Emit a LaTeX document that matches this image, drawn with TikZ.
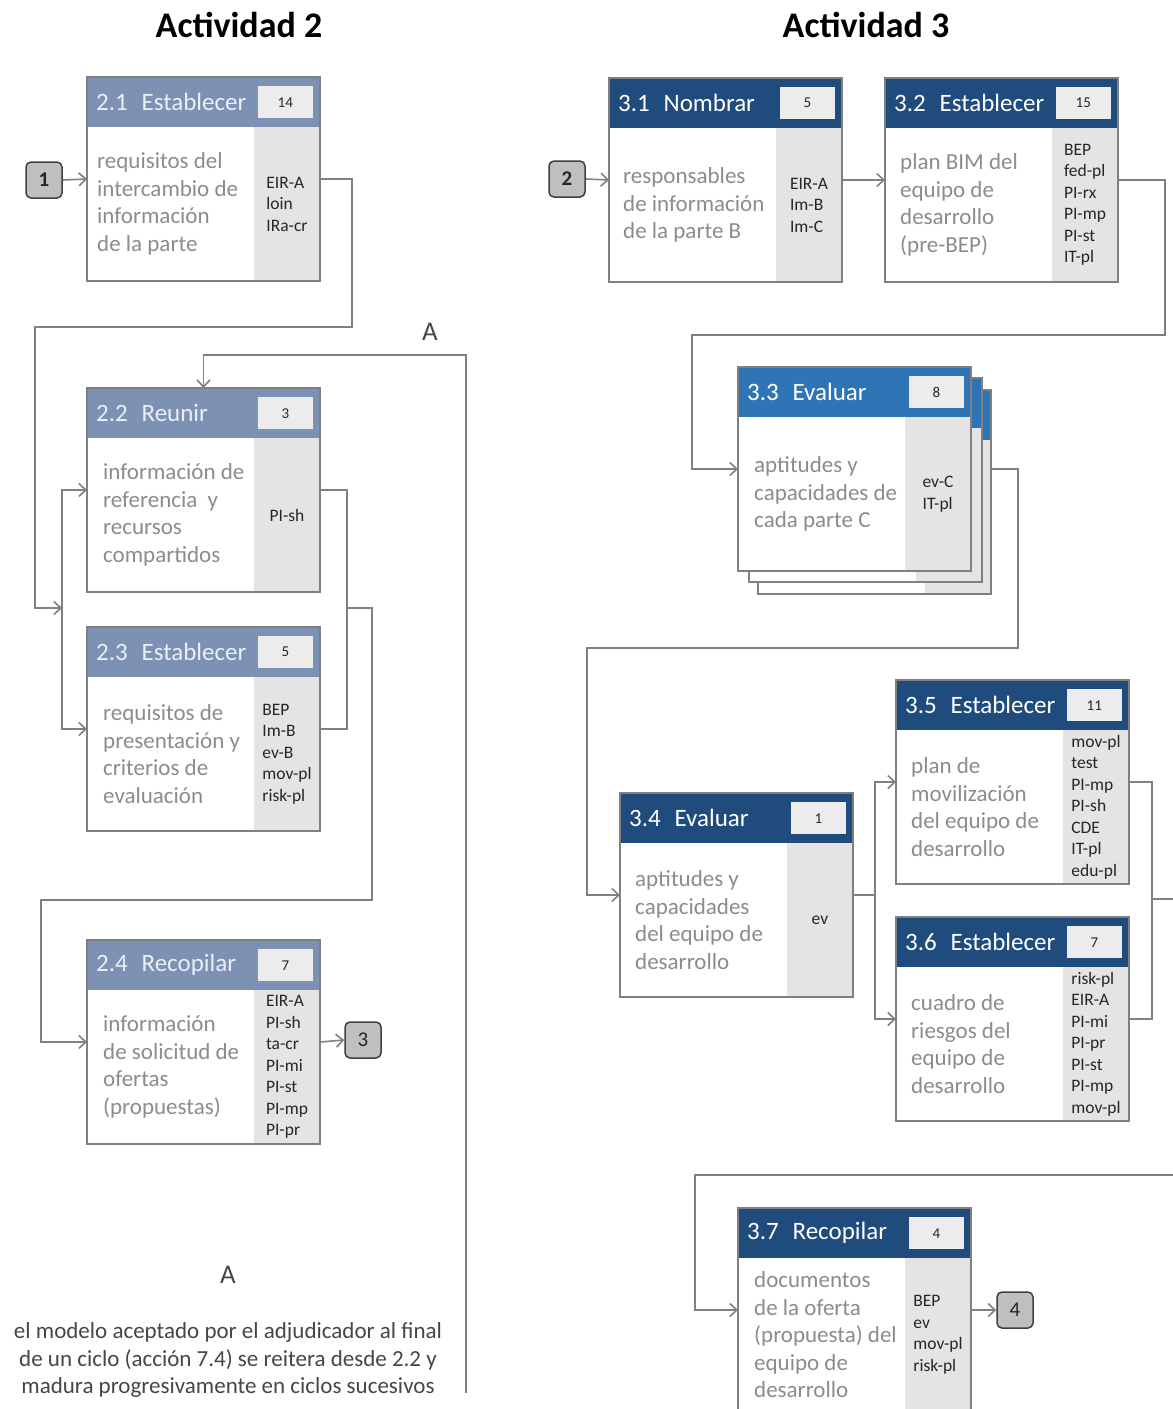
\documentclass[tikz,border=0pt]{standalone}
\usepackage{fontspec}
\setmainfont{Carlito}
\usetikzlibrary{arrows.meta}
\definecolor{lncol}{RGB}{128,128,128}
\definecolor{hdrA}{RGB}{124,145,180}
\definecolor{hdrB}{RGB}{31,75,125}
\definecolor{hdrC}{RGB}{46,117,182}
\definecolor{colbg}{RGB}{230,227,228}
\definecolor{numbg}{RGB}{236,236,236}
\definecolor{bodytx}{RGB}{140,140,140}
\definecolor{codetx}{RGB}{38,38,38}
\definecolor{hdrtxA}{RGB}{234,239,246}
\definecolor{tagbg}{RGB}{191,191,191}
\definecolor{tagln}{RGB}{64,64,64}
\definecolor{notetx}{RGB}{70,70,70}
\tikzset{
 conn/.style={draw=lncol, line width=1.6pt},
 arr/.style={conn, -{Straight Barb[length=7pt,width=13pt]}},
 pbody/.style={fill=white, minimum width=233pt, minimum height=204pt, inner sep=0pt, outer sep=0pt},
 boxline/.style={draw=lncol, line width=1.6pt},
 numbox/.style={fill=numbg, minimum width=55pt, minimum height=32pt, inner sep=0pt, font=\fontsize{15}{18}\selectfont, text=codetx},
 hdrtext/.style={inner sep=0pt, font=\fontsize{25}{28}\selectfont},
 bodytext/.style={inner sep=0pt, align=left, text=bodytx, font=\fontsize{23}{27.5}\selectfont},
 codetext/.style={inner sep=0pt, align=left, text=codetx, font=\fontsize{17.5}{21.5}\selectfont},
 tag/.style={draw=tagln, fill=tagbg, rounded corners=5pt, line width=1.5pt, minimum width=36pt, minimum height=36pt, inner sep=0pt, font=\fontsize{21}{24}\selectfont, text=black!85},
 title/.style={font=\bfseries\fontsize{36}{40}\selectfont, inner sep=0pt},
 letter/.style={font=\fontsize{27}{30}\selectfont, text=notetx, inner sep=0pt},
}
\newcommand{\ProcBox}[7]{%
 \node[pbody, anchor=north west] (#1) at (#2,#3) {};
 \fill[colbg] ([xshift=-66pt]#1.north east) rectangle (#1.south east);
 \fill[#4] (#1.north west) rectangle ([yshift=-50pt]#1.north east);
 \node[numbox, anchor=north east] (#1n) at ([xshift=-7pt,yshift=-9pt]#1.north east) {#7};
 \node[hdrtext, text=#5, anchor=west] (#1t) at ([xshift=9pt,yshift=-25pt]#1.north west) {#6};
 \draw[boxline] (#1.north west) rectangle (#1.south east);
}
\newcommand{\StackBox}[3]{%
 \node[pbody, anchor=north west] (#1) at (#2,#3) {};
 \fill[colbg] ([xshift=-66pt]#1.north east) rectangle (#1.south east);
 \fill[hdrC] (#1.north west) rectangle ([yshift=-50pt]#1.north east);
 \draw[boxline] (#1.north west) rectangle (#1.south east);
}
\newcommand{\BodyTxt}[4]{%
 \node[bodytext, anchor=west] (#1b) at ([xshift=#2pt,yshift=-127pt]#1.north west) {#3};
 \node[codetext] (#1c) at ([xshift=-33pt,yshift=-127pt]#1.north east) {#4};
}
\newcommand{\Sp}{\hspace{0.55em}}
\begin{document}
\begin{tikzpicture}[x=1pt,y=-1pt]
\useasboundingbox (0,0) rectangle (1173,1409);
\clip (0,0) rectangle (1173,1409);
\fill[white] (0,0) rectangle (1173,1409);

% titles
\node[title] (t2) at (239,25) {Actividad 2};
\node[title] (t3) at (866,25) {Actividad 3};

% ---------- Actividad 2 ----------
\ProcBox{b21}{87}{77}{hdrA}{hdrtxA}{2.1\Sp Establecer}{14}
\BodyTxt{b21}{10}{requisitos del\\intercambio de\\información\\de la parte}{EIR-A\\loin\\IRa-cr}
\ProcBox{b22}{87}{388}{hdrA}{hdrtxA}{2.2\Sp Reunir}{3}
\BodyTxt{b22}{16}{información de\\referencia\ \ y\\recursos\\compartidos}{PI-sh}
\ProcBox{b23}{87}{627}{hdrA}{hdrtxA}{2.3\Sp Establecer}{5}
\BodyTxt{b23}{16}{requisitos de\\presentación y\\criterios de\\evaluación}{BEP\\Im-B\\ev-B\\mov-pl\\risk-pl}
\ProcBox{b24}{87}{940}{hdrA}{hdrtxA}{2.4\Sp Recopilar}{7}
\BodyTxt{b24}{16}{información\\de solicitud de\\ofertas\\(propuestas)}{EIR-A\\PI-sh\\ta-cr\\PI-mi\\PI-st\\PI-mp\\PI-pr}

\node[tag, font=\bfseries\fontsize{21}{24}\selectfont] (n1) at (44,180) {1};
\node[tag] (n3) at (363,1040) {3};

\node[letter] (aTop) at (430,332) {A};
\node[letter] (aBot) at (228,1275) {A};
\node[align=center, text=notetx, font=\fontsize{23}{27.5}\selectfont, inner sep=0pt] (note) at (228,1360)
 {el modelo aceptado por el adjudicador al final\\de un ciclo (acción 7.4) se reitera desde 2.2 y\\madura progresivamente en ciclos sucesivos};

% connectors activity 2
\draw[arr] (n1.east) -- (b21.west);
\coordinate (j23) at (62,608);
\draw[arr] (b21.east) -| (352,327) -| (35,560) |- (j23);
\draw[arr] (j23) |- (b22.west);
\draw[arr] (j23) |- (b23.west);
\coordinate (o23) at (347,608);
\draw[conn] (b22.east) -| (o23) |- (b23.east);
\draw[arr] (o23) -- (372,608) |- (41,900) |- (b24.west);
\draw[arr] (b24.east) -- (n3.west);
\coordinate (aEnd) at (466,1393);
\draw[arr] (aEnd) |- (203.5,355) -- (b22.north);

% ---------- Actividad 3 ----------
\ProcBox{b31}{609}{78}{hdrB}{white}{3.1\Sp Nombrar}{5}
\BodyTxt{b31}{14}{responsables\\de información\\de la parte B}{EIR-A\\Im-B\\Im-C}
\ProcBox{b32}{885}{78}{hdrB}{white}{3.2\Sp Establecer}{15}
\BodyTxt{b32}{15}{plan BIM del\\equipo de\\desarrollo\\(pre-BEP)}{BEP\\fed-pl\\PI-rx\\PI-mp\\PI-st\\IT-pl}

\StackBox{b33s2}{758}{390}
\StackBox{b33s1}{749}{378}
\ProcBox{b33}{738}{367}{hdrC}{white}{3.3\Sp Evaluar}{8}
\BodyTxt{b33}{16}{aptitudes y\\capacidades de\\cada parte C}{ev-C\\IT-pl}

\ProcBox{b34}{620}{793}{hdrB}{white}{3.4\Sp Evaluar}{1}
\BodyTxt{b34}{15}{aptitudes y\\capacidades\\del equipo de\\desarrollo}{ev}
\ProcBox{b35}{896}{680}{hdrB}{white}{3.5\Sp Establecer}{11}
\BodyTxt{b35}{15}{plan de\\movilización\\del equipo de\\desarrollo}{mov-pl\\test\\PI-mp\\PI-sh\\CDE\\IT-pl\\edu-pl}
\ProcBox{b36}{896}{917}{hdrB}{white}{3.6\Sp Establecer}{7}
\BodyTxt{b36}{15}{cuadro de\\riesgos del\\equipo de\\desarrollo}{risk-pl\\EIR-A\\PI-mi\\PI-pr\\PI-st\\PI-mp\\mov-pl}
\ProcBox{b37}{738}{1208}{hdrB}{white}{3.7\Sp Recopilar}{4}
\BodyTxt{b37}{16}{documentos\\de la oferta\\(propuesta) del\\equipo de\\desarrollo}{BEP\\ev\\mov-pl\\risk-pl}

\node[tag, font=\bfseries\fontsize{21}{24}\selectfont] (n2) at (567,179) {2};
\node[tag] (n4) at (1015,1310) {4};

% connectors activity 3
\draw[arr] (n2.east) -- (b31.west);
\draw[arr] (b31.east) -- (b32.west);
\draw[arr] (b32.east) -| (1165,335) -| (692,400) |- (b33.west);
\coordinate (o33) at (b33s2.east |- b33.west);
\draw[arr] (o33) -| (1018,648) -| (587,700) |- (b34.west);
\coordinate (j34) at ([xshift=22pt]b34.east);
\draw[conn] (b34.east) -- (j34);
\draw[arr] (j34) |- (b35.west);
\draw[arr] (j34) |- (b36.west);
\coordinate (o56) at (1152,899);
\draw[conn] (b35.east) -| (o56) |- (b36.east);
\coordinate (e1) at (1180,899);
\draw[conn] (o56) -- (e1);
\coordinate (e2) at (1180,1175);
\draw[arr] (e2) -| (695,1250) |- (b37.west);
\draw[arr] (b37.east) -- (n4.west);
\end{tikzpicture}
\end{document}
